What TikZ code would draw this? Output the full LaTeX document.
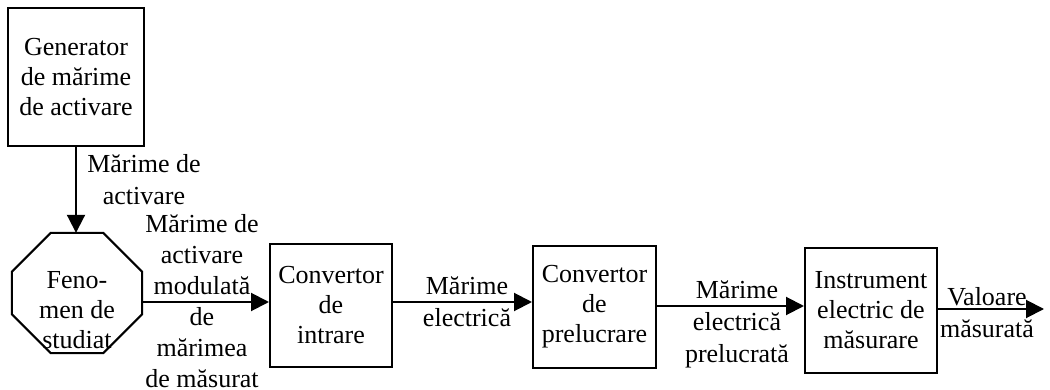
\documentclass[tikz,border=0pt]{standalone}
\usepackage{fontspec}
\setmainfont{Liberation Serif}
\usetikzlibrary{arrows.meta,calc}
\begin{document}
\begin{tikzpicture}[x=1pt,y=-1pt,
  box/.style={draw, line width=2pt, inner sep=0pt, align=center, font=\fontsize{26}{30}\selectfont},
  shapeonly/.style={inner sep=0pt},
  intext/.style={align=center, inner sep=0pt, font=\fontsize{26}{30}\selectfont},
  lbl/.style={align=center, inner sep=0pt, font=\fontsize{26}{32}\selectfont},
  arr/.style={line width=2pt, -{Triangle[length=18pt,width=18pt]}},
  edge/.style={line width=2pt}]
\useasboundingbox (0,0) rectangle (1050,390);
% blocks
\node[box, minimum width=136pt, minimum height=138pt] (gen) at (76,77.5) {Generator\\de mărime\\de activare};
\node[shapeonly, minimum width=130pt, minimum height=120pt] (fen) at (77,293) {};
\draw[edge] ([xshift=39pt]fen.north west) -- ([xshift=-39pt]fen.north east)
  -- ([yshift=-39pt]fen.north east) -- ([yshift=39pt]fen.south east)
  -- ([xshift=-39pt]fen.south east) -- ([xshift=39pt]fen.south west)
  -- ([yshift=39pt]fen.south west) -- ([yshift=-39pt]fen.north west) -- cycle;
\node[intext] (fentext) at (77,310.5) {Feno-\\men de\\studiat};
\node[box, minimum width=122pt, minimum height=123pt] (in) at (331,305.5) {Convertor\\de\\intrare};
\node[box, minimum width=123pt, minimum height=122pt] (pre) at (594.5,307) {Convertor\\de\\prelucrare};
\node[box, minimum width=132pt, minimum height=125pt] (ins) at (871,310.5) {Instrument\\electric de\\măsurare};
\coordinate (out) at (1044,309);
% connectors
\draw[arr] (gen.south) -- (gen.south |- fen.north);
\draw[arr] ([yshift=-9pt]fen.east) -- ([yshift=-9pt]fen.east -| in.west);
\draw[arr] ([yshift=3.5pt]in.east) -- ([yshift=3.5pt]in.east -| pre.west);
\draw[arr] ([yshift=1pt]pre.east) -- ([yshift=1pt]pre.east -| ins.west);
\draw[arr] ([yshift=1.5pt]ins.east) -- (out);
% labels
\node[lbl] (l1) at (144,180) {Mărime de\\activare};
\node[lbl, font=\fontsize{26}{31}\selectfont] (l2) at (202,301) {Mărime de\\activare\\modulată\\de\\mărimea\\de măsurat};
\node[lbl] (l3) at (467,302) {Mărime\\electrică};
\node[lbl] (l4) at (737,324) {Mărime\\electrică\\prelucrată};
\node[lbl] (l5) at (987,313) {Valoare\\măsurată};
\end{tikzpicture}
\end{document}
